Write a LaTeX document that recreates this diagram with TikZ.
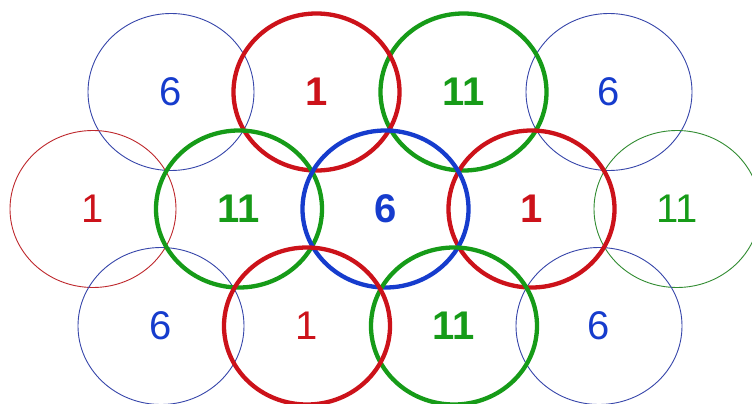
\documentclass[tikz,border=0pt]{standalone}
\usepackage{fontspec}
\setmainfont{Liberation Sans}
\usetikzlibrary{shapes.geometric}
\definecolor{cred}{RGB}{204,18,26}
\definecolor{cgreen}{RGB}{22,155,24}
\definecolor{cblue}{RGB}{22,60,205}
\definecolor{tred}{RGB}{190,40,45}
\definecolor{tgreen}{RGB}{50,140,50}
\definecolor{tblue}{RGB}{55,70,170}
\tikzset{
  ring/.style={ellipse, inner sep=0pt, minimum width=166pt, minimum height=157pt,
    font=\fontsize{40pt}{40pt}\selectfont},
  thickring/.style={ring, line width=4.3pt, font=\fontsize{40pt}{40pt}\selectfont\bfseries},
  thinring/.style={ring, line width=0.9pt},
  rthick/.style={thickring, draw=cred, text=cred},
  gthick/.style={thickring, draw=cgreen, text=cgreen},
  bthick/.style={thickring, draw=cblue, text=cblue},
  rthin/.style={thinring, draw=tred, text=cred},
  gthin/.style={thinring, draw=tgreen, text=cgreen},
  bthin/.style={thinring, draw=tblue, text=cblue},
}
\begin{document}
\begin{tikzpicture}[x=1pt,y=-1pt]
\useasboundingbox[fill=white] (0,0) rectangle (752,404);
\begin{scope}
\clip (0,0) rectangle (752,404);
% thin rings
\node[bthin] (t1) at (171,92) {6};
\node[bthin] (t4) at (609,92) {6};
\node[rthin] (m1) at (93,209) {1};
\node[gthin] (m5) at (677,209) {11};
\node[bthin] (b1) at (161,326) {6};
\node[bthin] (b4) at (599,326) {6};
% thick rings
\node[gthick] (t3) at (463.5,92) {11};
\node[rthick] (t2) at (316.5,92) {1};
\node[gthick] (m2) at (239,209) {11};
\node[rthick] (m4) at (531.5,209) {1};
\node[bthick] (m3) at (385.5,209) {6};
\node[gthick] (b3) at (454,326) {11};
\node[rthick, font=\fontsize{40pt}{40pt}\selectfont] (b2) at (307,326) {1};
\end{scope}
\end{tikzpicture}
\end{document}
